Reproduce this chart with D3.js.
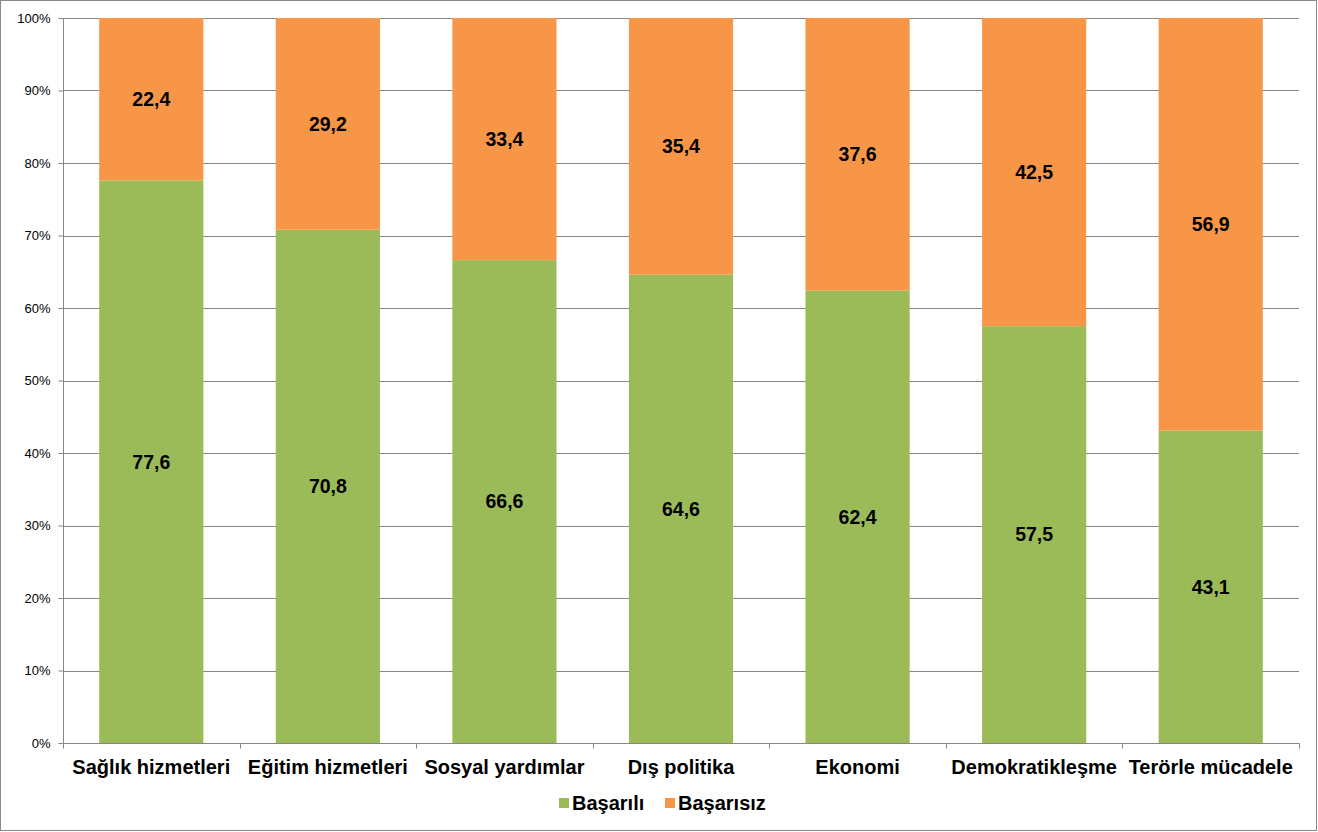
<!DOCTYPE html>
<html><head><meta charset="utf-8">
<script src="https://cdn.jsdelivr.net/npm/d3@7"></script>
<style>
body{margin:0;background:#fff;}
svg{display:block;font-family:"Liberation Sans",Arial,sans-serif;}
</style></head>
<body>
<svg id="c" width="1318" height="832"></svg>
<script>
const categories = ["Sağlık hizmetleri","Eğitim hizmetleri","Sosyal yardımlar","Dış politika","Ekonomi","Demokratikleşme","Terörle mücadele"];
const basarili = [77.6,70.8,66.6,64.6,62.4,57.5,43.1];
const basarisiz = [22.4,29.2,33.4,35.4,37.6,42.5,56.9];
const seriesNames = ["Başarılı","Başarısız"];
const seriesColors = ["#9BBB59","#F79646"];
const yTicks = [0,10,20,30,40,50,60,70,80,90,100];

const svg = d3.select("#c");
const W=1318,H=832;
svg.append("rect").attr("x",0.5).attr("y",0.5).attr("width",W-2).attr("height",H-2)
  .attr("fill","#fff").attr("stroke","#898989").attr("stroke-width",1);

const L=63,R=1299,T=18,B=743;
const x=d3.scaleBand().domain(categories).range([L,R]).paddingInner(0.41).paddingOuter(0.205);
const y=d3.scaleLinear().domain([0,100]).range([B,T]);

// gridlines
svg.append("g").selectAll("line").data(yTicks.filter(d=>d>0)).join("line")
  .attr("x1",L).attr("x2",R).attr("y1",d=>Math.round(y(d))+0.5).attr("y2",d=>Math.round(y(d))+0.5)
  .attr("stroke","#868686").attr("stroke-width",1);

const stackData = categories.map((c,i)=>({cat:c, "Başarılı":basarili[i], "Başarısız":basarisiz[i]}));
const stack = d3.stack().keys(seriesNames)(stackData);

const g=svg.append("g");
stack.forEach((s,si)=>{
  g.selectAll(null).data(s).join("rect")
    .attr("x",d=>x(d.data.cat)).attr("width",x.bandwidth())
    .attr("y",d=>y(d[1])).attr("height",d=>y(d[0])-y(d[1]))
    .attr("fill",seriesColors[si]);
});
stack.forEach((s,si)=>{
  g.selectAll(null).data(s).join("text")
    .attr("x",d=>x(d.data.cat)+x.bandwidth()/2)
    .attr("y",d=>(y(d[0])+y(d[1]))/2)
    .attr("dy","0.35em").attr("text-anchor","middle")
    .attr("font-size",19.5).attr("font-weight","bold").attr("fill","#000")
    .text(d=>d3.format(".1f")(d[1]-d[0]).replace(".",","));
});

// y axis
const ya=svg.append("g").attr("transform",`translate(${L+0.5},0)`)
  .call(d3.axisLeft(y).tickValues(yTicks).tickSize(5).tickPadding(8).tickFormat(d=>d+"%"));
ya.select(".domain").attr("stroke","#868686").attr("d",`M-5,${T+0.5}H0V${B+0.5}H-5`);
ya.selectAll(".tick line").attr("stroke","#868686");
ya.selectAll(".tick text").attr("font-size",13).attr("fill","#000").attr("font-family","Liberation Sans, Arial, sans-serif");

// x axis
const xa=svg.append("g").attr("transform",`translate(0,${B+0.5})`);
xa.append("line").attr("x1",L).attr("x2",R+0.5).attr("stroke","#868686");
const bounds=categories.map(c=>x(c)-x.step()*x.paddingInner()/2).concat([R]);
xa.selectAll(".tk").data(bounds).join("line")
  .attr("x1",d=>Math.round(d)+0.5).attr("x2",d=>Math.round(d)+0.5).attr("y1",0).attr("y2",5).attr("stroke","#868686");
xa.selectAll(".lbl").data(categories).join("text")
  .attr("x",d=>x(d)+x.bandwidth()/2).attr("y",30).attr("text-anchor","middle")
  .attr("font-size",20).attr("font-weight","bold").attr("fill","#000").text(d=>d);

// legend
const lg=svg.append("g");
const items=[{n:seriesNames[0],c:seriesColors[0],x:559},{n:seriesNames[1],c:seriesColors[1],x:665}];
items.forEach(it=>{
  lg.append("rect").attr("x",it.x).attr("y",798).attr("width",10).attr("height",10).attr("fill",it.c);
  lg.append("text").attr("x",it.x+13).attr("y",810).attr("font-size",20).attr("font-weight","bold").text(it.n);
});
</script>
</body></html>
